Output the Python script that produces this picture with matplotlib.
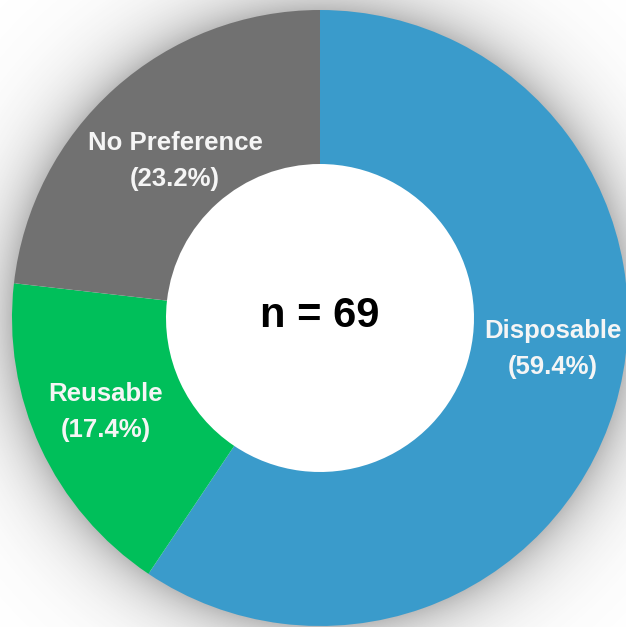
import numpy as np
import matplotlib
matplotlib.use("Agg")
import matplotlib.pyplot as plt

# datos del gráfico
categorias = ["Disposable", "Reusable", "No Preference"]
porcentajes = [59.4, 17.4, 23.2]
colores = ["#3A9BCB", "#00BF5A", "#717171"]
n_total = 69

plt.rcParams['font.family'] = ['Liberation Sans', 'DejaVu Sans']

W, H = 626, 627
fig = plt.figure(figsize=(W / 100, H / 100), dpi=100)
ax = fig.add_axes([0, 0, 1, 1])

cx, cy = 320, H - 318
R = 308

# sombra difusa alrededor del anillo
xx, yy = np.meshgrid(np.arange(W) + 0.5, np.arange(H) + 0.5)
d = np.hypot(xx - cx, yy - cy)
sombra = np.clip(np.exp(-(d - R) / 30.0), 0, 1) * 0.38
sombra[d < R - 2] = 0
img = np.zeros((H, W, 4))
img[..., :3] = 0.3
img[..., 3] = sombra
ax.imshow(img, extent=(0, W, 0, H), origin='lower', zorder=0)

ax.pie(porcentajes, colors=colores, startangle=90, counterclock=False,
       center=(cx, cy), radius=R, frame=True,
       wedgeprops=dict(width=R * 0.5, linewidth=0, zorder=2))
ax.set_xlim(0, W)
ax.set_ylim(0, H)
ax.set_aspect('equal')
ax.axis('off')

# etiquetas
posiciones = {"Disposable": (553, 349), "Reusable": (106, 412), "No Preference": (175, 161)}
for cat, pct in zip(categorias, porcentajes):
    px, py = posiciones[cat]
    ax.text(px, H - py, f"{cat}\n({pct:.1f}%)", ha='center', va='center',
            color='#F5F5F5', fontsize=18.5, fontweight='bold', linespacing=1.6, zorder=3)

ax.text(cx, cy + 2, f"n = {n_total}", ha='center', va='center',
        fontsize=30, fontweight='bold', color='black', zorder=3)

fig.savefig("out.png", dpi=100, facecolor='white')
